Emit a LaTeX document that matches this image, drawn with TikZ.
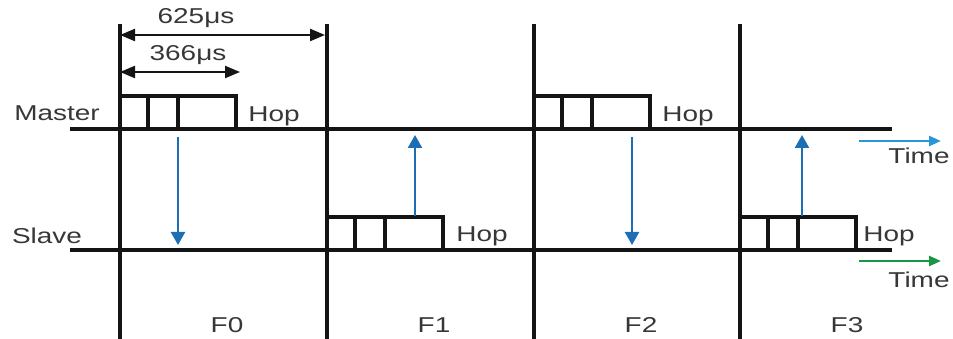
\documentclass[tikz,border=0pt]{standalone}
\usepackage{fontspec}
\usepackage{graphicx}
\setmainfont{Liberation Sans}
\usetikzlibrary{arrows.meta}
\definecolor{hopblue}{RGB}{30,110,180}
\definecolor{timeblue}{RGB}{40,150,215}
\definecolor{timegreen}{RGB}{25,150,70}
\definecolor{txt}{RGB}{55,55,55}
% wide sans lettering
\newcommand\wtext[1]{\scalebox{1.3}[1]{#1}}
\begin{document}
\begin{tikzpicture}[x=1pt,y=-1pt,
  lbl/.style={font=\fontsize{21.5}{21.5}\selectfont, text=txt, inner sep=0pt},
  axis/.style={line width=3.6pt, draw=black!92},
  pkt/.style={line width=3.2pt, draw=black!92},
  hopdir/.style={line width=2.4pt, draw=hopblue, -{Triangle[length=13pt,width=14pt]}},
  dimline/.style={line width=2.2pt, draw=black!92,
    {Triangle[length=15pt,width=12pt]}-{Triangle[length=15pt,width=12pt]}},
  timearrow/.style={line width=2.4pt, -{Triangle[length=12pt,width=10pt]}},
  packet/.pic={
    \draw[pkt] (0,0) |- (116,-33) -- (116,0);
    \draw[pkt] (28,0) -- (28,-33);
    \draw[pkt] (58,0) -- (58,-33);
  }
]
\useasboundingbox (0,0) rectangle (953,339);

% slot boundaries
\foreach \n/\x in {0/120,1/327,2/534,3/740}{
  \coordinate (top\n) at (\x,24);
  \coordinate (bot\n) at (\x,339);
  \draw[axis] (top\n) -- (bot\n);
}

% time axes
\coordinate (ms) at (70,129);  \coordinate (me) at (892,129);
\coordinate (ss) at (70,250);  \coordinate (se) at (892,250);
\draw[axis] (ms) -- (me);
\draw[axis] (ss) -- (se);

% packets
\pic at (120,129) {packet};
\pic at (327,250) {packet};
\pic at (534,129) {packet};
\pic at (740,250) {packet};

% hop directions
\coordinate (a0s) at (178,137); \coordinate (a0e) at (178,245);
\coordinate (a1s) at (415,216); \coordinate (a1e) at (415,135);
\coordinate (a2s) at (632,137); \coordinate (a2e) at (632,245);
\coordinate (a3s) at (802,216); \coordinate (a3e) at (802,135);
\foreach \n in {0,1,2,3}{ \draw[hopdir] (a\n s) -- (a\n e); }

% durations
\coordinate (d1s) at (120,35); \coordinate (d1e) at (325,35);
\coordinate (d2s) at (120,72); \coordinate (d2e) at (240,72);
\draw[dimline] (d1s) -- (d1e);
\draw[dimline] (d2s) -- (d2e);
\node[lbl] (t625) at (196,18) {\wtext{625μs}};
\node[lbl] (t366) at (188,55) {\wtext{366μs}};

% time markers
\coordinate (tb1) at (859,141); \coordinate (tb2) at (941,141);
\coordinate (tg1) at (859,261); \coordinate (tg2) at (941,261);
\draw[timearrow, draw=timeblue, fill=timeblue] (tb1) -- (tb2);
\draw[timearrow, draw=timegreen, fill=timegreen] (tg1) -- (tg2);
\node[lbl] (time1) at (919,156) {\wtext{Time}};
\node[lbl] (time2) at (919,280) {\wtext{Time}};

% labels
\node[lbl] (master) at (57,113) {\wtext{Master}};
\node[lbl] (slave) at (47,236) {\wtext{Slave}};
\node[lbl] (hop0) at (274,116) {\wtext{Hop}};
\node[lbl] (hop1) at (482,236) {\wtext{Hop}};
\node[lbl] (hop2) at (688,116) {\wtext{Hop}};
\node[lbl] (hop3) at (889,236) {\wtext{Hop}};
\node[lbl] (f0) at (227,325) {\wtext{F0}};
\node[lbl] (f1) at (434,325) {\wtext{F1}};
\node[lbl] (f2) at (641,325) {\wtext{F2}};
\node[lbl] (f3) at (847,325) {\wtext{F3}};
\end{tikzpicture}
\end{document}
